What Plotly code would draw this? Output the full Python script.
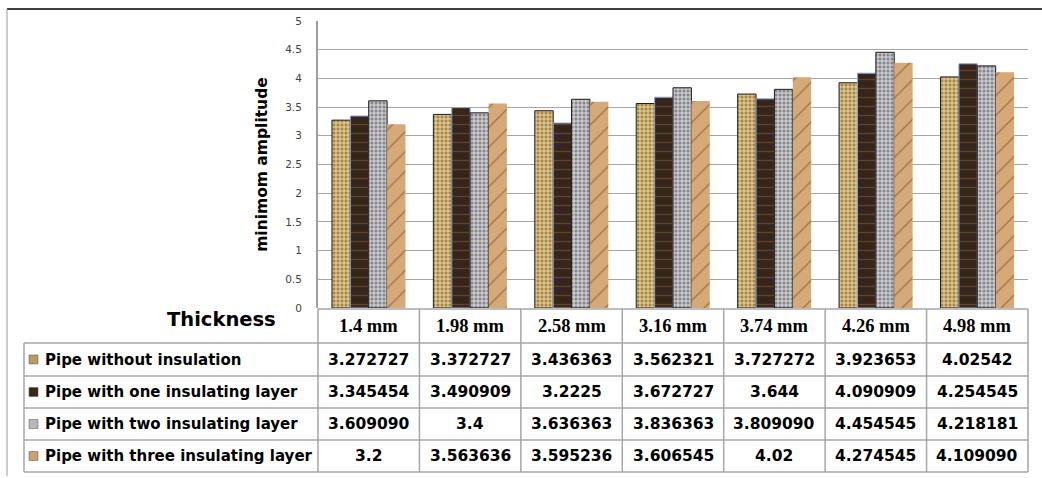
import plotly.graph_objects as go

categories = ["1.4 mm", "1.98 mm", "2.58 mm", "3.16 mm", "3.74 mm", "4.26 mm", "4.98 mm"]
series_names = ["Pipe without insulation", "Pipe with one insulating layer",
                "Pipe with two insulating layer", "Pipe with three insulating layer"]
no_insulation = [3.272727, 3.372727, 3.436363, 3.562321, 3.727272, 3.923653, 4.02542]
one_layer = [3.345454, 3.490909, 3.2225, 3.672727, 3.644, 4.090909, 4.254545]
two_layers = [3.609090, 3.4, 3.636363, 3.836363, 3.809090, 4.454545, 4.218181]
three_layers = [3.2, 3.563636, 3.595236, 3.606545, 4.02, 4.274545, 4.109090]
# text as shown in the data table
table_text = [
    ["3.272727", "3.372727", "3.436363", "3.562321", "3.727272", "3.923653", "4.02542"],
    ["3.345454", "3.490909", "3.2225", "3.672727", "3.644", "4.090909", "4.254545"],
    ["3.609090", "3.4", "3.636363", "3.836363", "3.809090", "4.454545", "4.218181"],
    ["3.2", "3.563636", "3.595236", "3.606545", "4.02", "4.274545", "4.109090"],
]
y_ticks = [0, 0.5, 1, 1.5, 2, 2.5, 3, 3.5, 4, 4.5, 5]

W, H = 1042, 478
L, R, T, B = 318, 14, 21, 170
PW, PH = W - L - R, H - T - B


def px(x):
    return (x - L) / PW


def py(y):
    return (H - B - y) / PH


styles = [
    dict(bg="#a3844a", fg="#ecd89e", shape="+", size=4, sol=0.45, line="#1a1a1a", lw=1, icon="#b89c62"),
    dict(bg="#36251a", fg="#5e4229", shape="-", size=9, sol=0.15, line="#8ea9db", lw=1, icon="#3a2818"),
    dict(bg="#c9c9cd", fg="#85858c", shape=".", size=4, sol=0.45, line="#1a1a1a", lw=1, icon="#b8b8bc"),
    dict(bg="#d6aa78", fg="#a4744a", shape="/", size=14, sol=0.1, line="rgba(0,0,0,0)", lw=0, icon="#caa070"),
]
all_values = [no_insulation, one_layer, two_layers, three_layers]

fig = go.Figure()
for name, vals, st in zip(series_names, all_values, styles):
    fig.add_trace(go.Bar(
        x=categories, y=vals, name=name,
        marker=dict(color=st["bg"],
                    line=dict(color=st["line"], width=st["lw"]),
                    pattern=dict(shape=st["shape"], fgcolor=st["fg"], bgcolor=st["bg"],
                                 size=st["size"], solidity=st["sol"], fillmode="replace")),
    ))

shapes = []
annotations = []
grid = "#a6a6a6"
# table lines
col_x = [L + i * PW / len(categories) for i in range(len(categories) + 1)]
row_y = [309, 343, 376, 408, 440, 472]
for x in col_x:
    shapes.append(dict(type="line", xref="paper", yref="paper", x0=px(x), x1=px(x),
                       y0=py(row_y[0]), y1=py(row_y[-1]), line=dict(color=grid, width=1.5)))
shapes.append(dict(type="line", xref="paper", yref="paper", x0=px(24), x1=px(24),
                   y0=py(row_y[1]), y1=py(row_y[-1]), line=dict(color=grid, width=1.5)))
for i, y in enumerate(row_y):
    x0 = L if i == 0 else 24
    shapes.append(dict(type="line", xref="paper", yref="paper", x0=px(x0), x1=px(W - R),
                       y0=py(y), y1=py(y), line=dict(color=grid, width=1.5)))
# outer frame
shapes.append(dict(type="line", xref="paper", yref="paper", x0=px(7), x1=px(W),
                   y0=py(9), y1=py(9), line=dict(color="#404040", width=2)))
shapes.append(dict(type="line", xref="paper", yref="paper", x0=px(7), x1=px(7),
                   y0=py(9), y1=py(476), line=dict(color="#9a9a9a", width=1)))

# header row
for c in categories:
    annotations.append(dict(x=c, xref="x", y=py(326), yref="paper", text="<b>%s</b>" % c,
                            showarrow=False, xanchor="center", yanchor="middle",
                            font=dict(family="Liberation Serif", size=18.5, color="#000000")))
annotations.append(dict(x=px(221), xref="paper", y=py(319), yref="paper", text="<b>Thickness</b>",
                        showarrow=False, xanchor="center", yanchor="middle",
                        font=dict(family="DejaVu Sans", size=19.5, color="#000000")))
# rows
for r, (name, st) in enumerate(zip(series_names, styles)):
    yc = (row_y[r + 1] + row_y[r + 2]) / 2
    shapes.append(dict(type="rect", xref="paper", yref="paper", x0=px(29), x1=px(38),
                       y0=py(yc - 4.5), y1=py(yc + 4.5), fillcolor=st["icon"],
                       line=dict(color="#555555", width=0.5)))
    annotations.append(dict(x=px(43), xref="paper", y=py(yc), yref="paper", text="<b>%s</b>" % name,
                            showarrow=False, xanchor="left", yanchor="middle",
                            font=dict(family="DejaVu Sans", size=15, color="#000000")))
    for c, t in zip(categories, table_text[r]):
        annotations.append(dict(x=c, xref="x", y=py(yc), yref="paper", text="<b>%s</b>" % t,
                                showarrow=False, xanchor="center", yanchor="middle",
                                font=dict(family="DejaVu Sans", size=15.5, color="#000000")))

fig.update_layout(
    width=W, height=H,
    margin=dict(l=L, r=R, t=T, b=B, autoexpand=False),
    paper_bgcolor="white", plot_bgcolor="white",
    barmode="group", bargap=0.275, bargroupgap=0,
    showlegend=False,
    shapes=shapes, annotations=annotations,
    xaxis=dict(showticklabels=False, showgrid=False, showline=False, ticks="", zeroline=False),
    yaxis=dict(range=[0, 5], tickvals=y_ticks, ticktext=[("%g" % v) for v in y_ticks],
               showgrid=True, gridcolor=grid, gridwidth=1.2, zeroline=False,
               showline=True, linecolor="#a0a0a0", linewidth=2, ticks="",
               ticklabelstandoff=12,
               tickfont=dict(family="DejaVu Sans", size=10.5, color="#404040"),
               title=dict(text="<b>minimom amplitude</b>", standoff=14,
                          font=dict(family="DejaVu Sans", size=15.5, color="#000000"))),
)

fig.write_html("out.html", config={"displayModeBar": False},
               post_script="document.body.style.margin='0';document.body.style.padding='0';")
